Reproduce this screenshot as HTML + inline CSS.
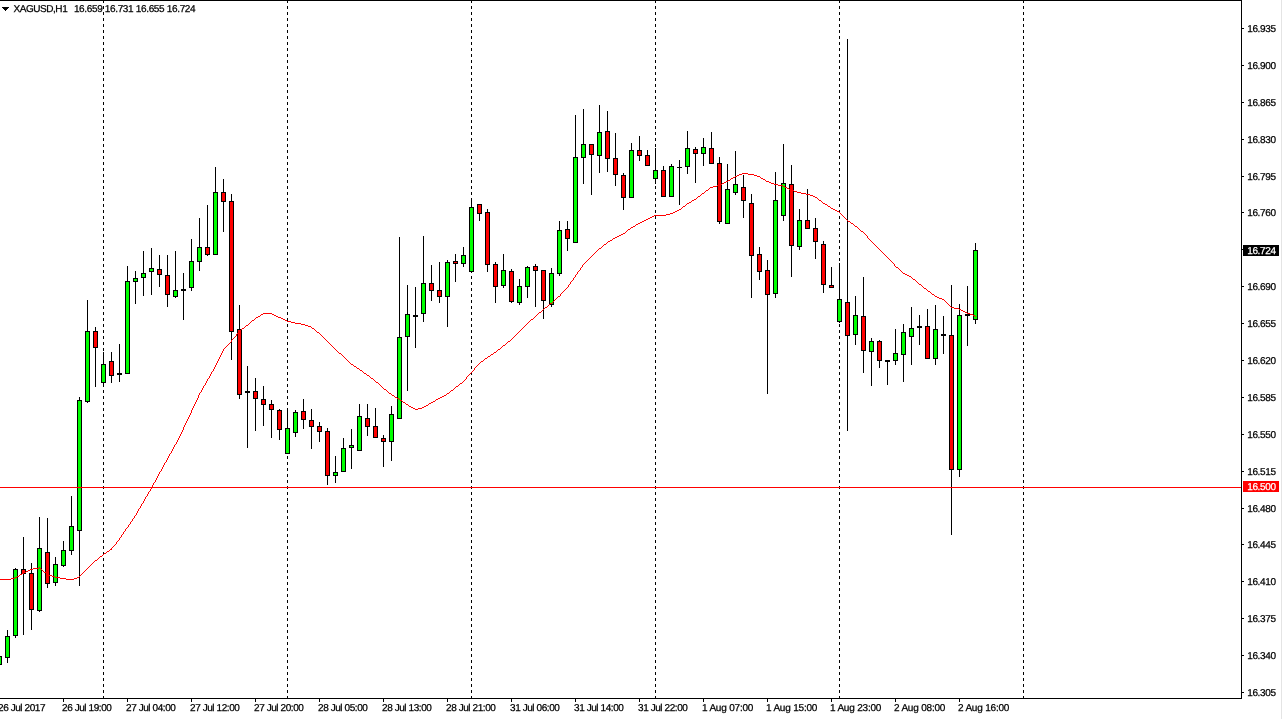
<!DOCTYPE html>
<html><head><meta charset="utf-8"><title>XAGUSD,H1</title>
<style>
html,body{margin:0;padding:0;background:#fff;}
body{width:1283px;height:719px;overflow:hidden;position:relative;font-family:"Liberation Sans",Arial,sans-serif;font-size:10px;line-height:10px;letter-spacing:-0.35px;text-rendering:geometricPrecision;-webkit-text-stroke:0.25px currentColor;color:#000;}
#chart{position:absolute;left:0;top:0;width:1283px;height:719px;}
.t{position:absolute;white-space:pre;height:10px;}
.p{left:1247.2px;}
.d{top:704px;letter-spacing:-0.42px;}
.box{position:absolute;left:1243px;width:36px;height:11px;color:#fff;}
.box span{position:absolute;left:3px;top:1px;white-space:pre;}
</style></head><body>
<svg id="chart" width="1283" height="719" viewBox="0 0 1283 719" shape-rendering="crispEdges">

<g fill="#000">
<line x1="103.5" y1="0" x2="103.5" y2="698" stroke="#000" stroke-width="1" stroke-dasharray="3 3"/>
<line x1="287.5" y1="0" x2="287.5" y2="698" stroke="#000" stroke-width="1" stroke-dasharray="3 3"/>
<line x1="471.5" y1="0" x2="471.5" y2="698" stroke="#000" stroke-width="1" stroke-dasharray="3 3"/>
<line x1="655.5" y1="0" x2="655.5" y2="698" stroke="#000" stroke-width="1" stroke-dasharray="3 3"/>
<line x1="839.5" y1="0" x2="839.5" y2="698" stroke="#000" stroke-width="1" stroke-dasharray="3 3"/>
<line x1="1023.5" y1="0" x2="1023.5" y2="698" stroke="#000" stroke-width="1" stroke-dasharray="3 3"/>
</g>
<g>
<rect x="-1" y="656" width="1" height="9" fill="#000"/>
<rect x="-3" y="656" width="5" height="9" fill="#000"/>
<rect x="-2" y="657" width="3" height="7" fill="#00ff00"/>
<rect x="7" y="630" width="1" height="33" fill="#000"/>
<rect x="5" y="636" width="5" height="22" fill="#000"/>
<rect x="6" y="637" width="3" height="20" fill="#00ff00"/>
<rect x="15" y="568" width="1" height="70" fill="#000"/>
<rect x="13" y="569" width="5" height="67" fill="#000"/>
<rect x="14" y="570" width="3" height="65" fill="#00ff00"/>
<rect x="23" y="537" width="1" height="98" fill="#000"/>
<rect x="21" y="569" width="5" height="5" fill="#000"/>
<rect x="22" y="570" width="3" height="3" fill="#ff0000"/>
<rect x="31" y="563" width="1" height="67" fill="#000"/>
<rect x="29" y="573" width="5" height="37" fill="#000"/>
<rect x="30" y="574" width="3" height="35" fill="#ff0000"/>
<rect x="39" y="517" width="1" height="95" fill="#000"/>
<rect x="37" y="548" width="5" height="63" fill="#000"/>
<rect x="38" y="549" width="3" height="61" fill="#00ff00"/>
<rect x="47" y="518" width="1" height="70" fill="#000"/>
<rect x="45" y="552" width="5" height="32" fill="#000"/>
<rect x="46" y="553" width="3" height="30" fill="#ff0000"/>
<rect x="55" y="557" width="1" height="29" fill="#000"/>
<rect x="53" y="564" width="5" height="19" fill="#000"/>
<rect x="54" y="565" width="3" height="17" fill="#00ff00"/>
<rect x="63" y="541" width="1" height="26" fill="#000"/>
<rect x="61" y="550" width="5" height="16" fill="#000"/>
<rect x="62" y="551" width="3" height="14" fill="#00ff00"/>
<rect x="71" y="496" width="1" height="59" fill="#000"/>
<rect x="69" y="526" width="5" height="25" fill="#000"/>
<rect x="70" y="527" width="3" height="23" fill="#00ff00"/>
<rect x="79" y="397" width="1" height="189" fill="#000"/>
<rect x="77" y="400" width="5" height="131" fill="#000"/>
<rect x="78" y="401" width="3" height="129" fill="#00ff00"/>
<rect x="87" y="300" width="1" height="103" fill="#000"/>
<rect x="85" y="331" width="5" height="71" fill="#000"/>
<rect x="86" y="332" width="3" height="69" fill="#00ff00"/>
<rect x="95" y="327" width="1" height="60" fill="#000"/>
<rect x="93" y="331" width="5" height="17" fill="#000"/>
<rect x="94" y="332" width="3" height="15" fill="#ff0000"/>
<rect x="103" y="352" width="1" height="35" fill="#000"/>
<rect x="101" y="364" width="5" height="19" fill="#000"/>
<rect x="102" y="365" width="3" height="17" fill="#00ff00"/>
<rect x="111" y="352" width="1" height="31" fill="#000"/>
<rect x="109" y="361" width="5" height="15" fill="#000"/>
<rect x="110" y="362" width="3" height="13" fill="#ff0000"/>
<rect x="119" y="344" width="1" height="38" fill="#000"/>
<rect x="117" y="373" width="5" height="2" fill="#000"/>
<rect x="127" y="266" width="1" height="108" fill="#000"/>
<rect x="125" y="281" width="5" height="93" fill="#000"/>
<rect x="126" y="282" width="3" height="91" fill="#00ff00"/>
<rect x="135" y="271" width="1" height="33" fill="#000"/>
<rect x="133" y="278" width="5" height="4" fill="#000"/>
<rect x="134" y="279" width="3" height="2" fill="#00ff00"/>
<rect x="143" y="251" width="1" height="45" fill="#000"/>
<rect x="141" y="273" width="5" height="5" fill="#000"/>
<rect x="142" y="274" width="3" height="3" fill="#00ff00"/>
<rect x="151" y="248" width="1" height="47" fill="#000"/>
<rect x="149" y="268" width="5" height="4" fill="#000"/>
<rect x="150" y="269" width="3" height="2" fill="#00ff00"/>
<rect x="159" y="255" width="1" height="32" fill="#000"/>
<rect x="157" y="269" width="5" height="6" fill="#000"/>
<rect x="158" y="270" width="3" height="4" fill="#ff0000"/>
<rect x="167" y="255" width="1" height="52" fill="#000"/>
<rect x="165" y="275" width="5" height="20" fill="#000"/>
<rect x="166" y="276" width="3" height="18" fill="#ff0000"/>
<rect x="175" y="251" width="1" height="47" fill="#000"/>
<rect x="173" y="290" width="5" height="7" fill="#000"/>
<rect x="174" y="291" width="3" height="5" fill="#00ff00"/>
<rect x="183" y="273" width="1" height="47" fill="#000"/>
<rect x="181" y="289" width="5" height="2" fill="#000"/>
<rect x="191" y="239" width="1" height="52" fill="#000"/>
<rect x="189" y="261" width="5" height="27" fill="#000"/>
<rect x="190" y="262" width="3" height="25" fill="#00ff00"/>
<rect x="199" y="218" width="1" height="53" fill="#000"/>
<rect x="197" y="247" width="5" height="15" fill="#000"/>
<rect x="198" y="248" width="3" height="13" fill="#00ff00"/>
<rect x="207" y="205" width="1" height="51" fill="#000"/>
<rect x="205" y="247" width="5" height="8" fill="#000"/>
<rect x="206" y="248" width="3" height="6" fill="#ff0000"/>
<rect x="215" y="167" width="1" height="88" fill="#000"/>
<rect x="213" y="192" width="5" height="63" fill="#000"/>
<rect x="214" y="193" width="3" height="61" fill="#00ff00"/>
<rect x="223" y="179" width="1" height="53" fill="#000"/>
<rect x="221" y="192" width="5" height="10" fill="#000"/>
<rect x="222" y="193" width="3" height="8" fill="#ff0000"/>
<rect x="231" y="194" width="1" height="166" fill="#000"/>
<rect x="229" y="201" width="5" height="131" fill="#000"/>
<rect x="230" y="202" width="3" height="129" fill="#ff0000"/>
<rect x="239" y="305" width="1" height="94" fill="#000"/>
<rect x="237" y="329" width="5" height="66" fill="#000"/>
<rect x="238" y="330" width="3" height="64" fill="#ff0000"/>
<rect x="247" y="366" width="1" height="82" fill="#000"/>
<rect x="245" y="391" width="5" height="2" fill="#000"/>
<rect x="255" y="378" width="1" height="53" fill="#000"/>
<rect x="253" y="391" width="5" height="8" fill="#000"/>
<rect x="254" y="392" width="3" height="6" fill="#ff0000"/>
<rect x="263" y="386" width="1" height="40" fill="#000"/>
<rect x="261" y="399" width="5" height="6" fill="#000"/>
<rect x="262" y="400" width="3" height="4" fill="#ff0000"/>
<rect x="271" y="400" width="1" height="38" fill="#000"/>
<rect x="269" y="404" width="5" height="6" fill="#000"/>
<rect x="270" y="405" width="3" height="4" fill="#ff0000"/>
<rect x="279" y="409" width="1" height="31" fill="#000"/>
<rect x="277" y="410" width="5" height="20" fill="#000"/>
<rect x="278" y="411" width="3" height="18" fill="#ff0000"/>
<rect x="287" y="408" width="1" height="46" fill="#000"/>
<rect x="285" y="428" width="5" height="26" fill="#000"/>
<rect x="286" y="429" width="3" height="24" fill="#00ff00"/>
<rect x="295" y="410" width="1" height="27" fill="#000"/>
<rect x="293" y="412" width="5" height="21" fill="#000"/>
<rect x="294" y="413" width="3" height="19" fill="#00ff00"/>
<rect x="303" y="399" width="1" height="30" fill="#000"/>
<rect x="301" y="411" width="5" height="9" fill="#000"/>
<rect x="302" y="412" width="3" height="7" fill="#ff0000"/>
<rect x="311" y="409" width="1" height="40" fill="#000"/>
<rect x="309" y="420" width="5" height="7" fill="#000"/>
<rect x="310" y="421" width="3" height="5" fill="#ff0000"/>
<rect x="319" y="422" width="1" height="20" fill="#000"/>
<rect x="317" y="426" width="5" height="6" fill="#000"/>
<rect x="318" y="427" width="3" height="4" fill="#ff0000"/>
<rect x="327" y="428" width="1" height="57" fill="#000"/>
<rect x="325" y="431" width="5" height="45" fill="#000"/>
<rect x="326" y="432" width="3" height="43" fill="#ff0000"/>
<rect x="335" y="456" width="1" height="27" fill="#000"/>
<rect x="333" y="472" width="5" height="4" fill="#000"/>
<rect x="334" y="473" width="3" height="2" fill="#00ff00"/>
<rect x="343" y="438" width="1" height="34" fill="#000"/>
<rect x="341" y="448" width="5" height="24" fill="#000"/>
<rect x="342" y="449" width="3" height="22" fill="#00ff00"/>
<rect x="351" y="429" width="1" height="40" fill="#000"/>
<rect x="349" y="445" width="5" height="3" fill="#000"/>
<rect x="350" y="446" width="3" height="1" fill="#00ff00"/>
<rect x="359" y="404" width="1" height="47" fill="#000"/>
<rect x="357" y="416" width="5" height="35" fill="#000"/>
<rect x="358" y="417" width="3" height="33" fill="#00ff00"/>
<rect x="367" y="404" width="1" height="32" fill="#000"/>
<rect x="365" y="418" width="5" height="9" fill="#000"/>
<rect x="366" y="419" width="3" height="7" fill="#ff0000"/>
<rect x="375" y="408" width="1" height="30" fill="#000"/>
<rect x="373" y="426" width="5" height="12" fill="#000"/>
<rect x="374" y="427" width="3" height="10" fill="#ff0000"/>
<rect x="383" y="435" width="1" height="32" fill="#000"/>
<rect x="381" y="438" width="5" height="4" fill="#000"/>
<rect x="382" y="439" width="3" height="2" fill="#ff0000"/>
<rect x="391" y="406" width="1" height="55" fill="#000"/>
<rect x="389" y="414" width="5" height="28" fill="#000"/>
<rect x="390" y="415" width="3" height="26" fill="#00ff00"/>
<rect x="399" y="237" width="1" height="182" fill="#000"/>
<rect x="397" y="337" width="5" height="82" fill="#000"/>
<rect x="398" y="338" width="3" height="80" fill="#00ff00"/>
<rect x="407" y="285" width="1" height="106" fill="#000"/>
<rect x="405" y="314" width="5" height="23" fill="#000"/>
<rect x="406" y="315" width="3" height="21" fill="#00ff00"/>
<rect x="415" y="287" width="1" height="61" fill="#000"/>
<rect x="413" y="315" width="5" height="2" fill="#000"/>
<rect x="423" y="236" width="1" height="86" fill="#000"/>
<rect x="421" y="283" width="5" height="31" fill="#000"/>
<rect x="422" y="284" width="3" height="29" fill="#00ff00"/>
<rect x="431" y="265" width="1" height="36" fill="#000"/>
<rect x="429" y="283" width="5" height="8" fill="#000"/>
<rect x="430" y="284" width="3" height="6" fill="#ff0000"/>
<rect x="439" y="262" width="1" height="41" fill="#000"/>
<rect x="437" y="290" width="5" height="7" fill="#000"/>
<rect x="438" y="291" width="3" height="5" fill="#ff0000"/>
<rect x="447" y="260" width="1" height="67" fill="#000"/>
<rect x="445" y="262" width="5" height="35" fill="#000"/>
<rect x="446" y="263" width="3" height="33" fill="#00ff00"/>
<rect x="455" y="254" width="1" height="28" fill="#000"/>
<rect x="453" y="261" width="5" height="3" fill="#000"/>
<rect x="454" y="262" width="3" height="1" fill="#ff0000"/>
<rect x="463" y="247" width="1" height="20" fill="#000"/>
<rect x="461" y="255" width="5" height="9" fill="#000"/>
<rect x="462" y="256" width="3" height="7" fill="#00ff00"/>
<rect x="471" y="198" width="1" height="75" fill="#000"/>
<rect x="469" y="207" width="5" height="65" fill="#000"/>
<rect x="470" y="208" width="3" height="63" fill="#00ff00"/>
<rect x="479" y="204" width="1" height="17" fill="#000"/>
<rect x="477" y="204" width="5" height="10" fill="#000"/>
<rect x="478" y="205" width="3" height="8" fill="#ff0000"/>
<rect x="487" y="209" width="1" height="63" fill="#000"/>
<rect x="485" y="212" width="5" height="53" fill="#000"/>
<rect x="486" y="213" width="3" height="51" fill="#ff0000"/>
<rect x="495" y="262" width="1" height="41" fill="#000"/>
<rect x="493" y="264" width="5" height="23" fill="#000"/>
<rect x="494" y="265" width="3" height="21" fill="#ff0000"/>
<rect x="503" y="254" width="1" height="34" fill="#000"/>
<rect x="501" y="270" width="5" height="16" fill="#000"/>
<rect x="502" y="271" width="3" height="14" fill="#00ff00"/>
<rect x="511" y="269" width="1" height="34" fill="#000"/>
<rect x="509" y="271" width="5" height="31" fill="#000"/>
<rect x="510" y="272" width="3" height="29" fill="#ff0000"/>
<rect x="519" y="279" width="1" height="26" fill="#000"/>
<rect x="517" y="286" width="5" height="17" fill="#000"/>
<rect x="518" y="287" width="3" height="15" fill="#00ff00"/>
<rect x="527" y="266" width="1" height="32" fill="#000"/>
<rect x="525" y="267" width="5" height="20" fill="#000"/>
<rect x="526" y="268" width="3" height="18" fill="#00ff00"/>
<rect x="535" y="264" width="1" height="43" fill="#000"/>
<rect x="533" y="266" width="5" height="5" fill="#000"/>
<rect x="534" y="267" width="3" height="3" fill="#ff0000"/>
<rect x="543" y="270" width="1" height="49" fill="#000"/>
<rect x="541" y="270" width="5" height="31" fill="#000"/>
<rect x="542" y="271" width="3" height="29" fill="#ff0000"/>
<rect x="551" y="268" width="1" height="39" fill="#000"/>
<rect x="549" y="273" width="5" height="32" fill="#000"/>
<rect x="550" y="274" width="3" height="30" fill="#00ff00"/>
<rect x="559" y="221" width="1" height="55" fill="#000"/>
<rect x="557" y="230" width="5" height="44" fill="#000"/>
<rect x="558" y="231" width="3" height="42" fill="#00ff00"/>
<rect x="567" y="221" width="1" height="30" fill="#000"/>
<rect x="565" y="229" width="5" height="10" fill="#000"/>
<rect x="566" y="230" width="3" height="8" fill="#ff0000"/>
<rect x="575" y="115" width="1" height="128" fill="#000"/>
<rect x="573" y="157" width="5" height="86" fill="#000"/>
<rect x="574" y="158" width="3" height="84" fill="#00ff00"/>
<rect x="583" y="109" width="1" height="75" fill="#000"/>
<rect x="581" y="144" width="5" height="14" fill="#000"/>
<rect x="582" y="145" width="3" height="12" fill="#00ff00"/>
<rect x="591" y="144" width="1" height="51" fill="#000"/>
<rect x="589" y="144" width="5" height="11" fill="#000"/>
<rect x="590" y="145" width="3" height="9" fill="#ff0000"/>
<rect x="599" y="105" width="1" height="68" fill="#000"/>
<rect x="597" y="132" width="5" height="24" fill="#000"/>
<rect x="598" y="133" width="3" height="22" fill="#00ff00"/>
<rect x="607" y="111" width="1" height="61" fill="#000"/>
<rect x="605" y="131" width="5" height="28" fill="#000"/>
<rect x="606" y="132" width="3" height="26" fill="#ff0000"/>
<rect x="615" y="133" width="1" height="53" fill="#000"/>
<rect x="613" y="158" width="5" height="17" fill="#000"/>
<rect x="614" y="159" width="3" height="15" fill="#ff0000"/>
<rect x="623" y="173" width="1" height="37" fill="#000"/>
<rect x="621" y="175" width="5" height="23" fill="#000"/>
<rect x="622" y="176" width="3" height="21" fill="#ff0000"/>
<rect x="631" y="143" width="1" height="55" fill="#000"/>
<rect x="629" y="150" width="5" height="48" fill="#000"/>
<rect x="630" y="151" width="3" height="46" fill="#00ff00"/>
<rect x="639" y="136" width="1" height="25" fill="#000"/>
<rect x="637" y="150" width="5" height="6" fill="#000"/>
<rect x="638" y="151" width="3" height="4" fill="#ff0000"/>
<rect x="647" y="150" width="1" height="16" fill="#000"/>
<rect x="645" y="155" width="5" height="11" fill="#000"/>
<rect x="646" y="156" width="3" height="9" fill="#ff0000"/>
<rect x="655" y="148" width="1" height="36" fill="#000"/>
<rect x="653" y="170" width="5" height="9" fill="#000"/>
<rect x="654" y="171" width="3" height="7" fill="#00ff00"/>
<rect x="663" y="166" width="1" height="31" fill="#000"/>
<rect x="661" y="170" width="5" height="27" fill="#000"/>
<rect x="662" y="171" width="3" height="25" fill="#ff0000"/>
<rect x="671" y="164" width="1" height="33" fill="#000"/>
<rect x="669" y="166" width="5" height="31" fill="#000"/>
<rect x="670" y="167" width="3" height="29" fill="#00ff00"/>
<rect x="679" y="160" width="1" height="45" fill="#000"/>
<rect x="677" y="167" width="5" height="1" fill="#000"/>
<rect x="687" y="131" width="1" height="43" fill="#000"/>
<rect x="685" y="148" width="5" height="19" fill="#000"/>
<rect x="686" y="149" width="3" height="17" fill="#00ff00"/>
<rect x="695" y="147" width="1" height="36" fill="#000"/>
<rect x="693" y="149" width="5" height="5" fill="#000"/>
<rect x="694" y="150" width="3" height="3" fill="#ff0000"/>
<rect x="703" y="138" width="1" height="28" fill="#000"/>
<rect x="701" y="147" width="5" height="7" fill="#000"/>
<rect x="702" y="148" width="3" height="5" fill="#00ff00"/>
<rect x="711" y="132" width="1" height="32" fill="#000"/>
<rect x="709" y="148" width="5" height="16" fill="#000"/>
<rect x="710" y="149" width="3" height="14" fill="#ff0000"/>
<rect x="719" y="157" width="1" height="67" fill="#000"/>
<rect x="717" y="163" width="5" height="59" fill="#000"/>
<rect x="718" y="164" width="3" height="57" fill="#ff0000"/>
<rect x="727" y="164" width="1" height="60" fill="#000"/>
<rect x="725" y="189" width="5" height="35" fill="#000"/>
<rect x="726" y="190" width="3" height="33" fill="#00ff00"/>
<rect x="735" y="151" width="1" height="44" fill="#000"/>
<rect x="733" y="184" width="5" height="9" fill="#000"/>
<rect x="734" y="185" width="3" height="7" fill="#00ff00"/>
<rect x="743" y="175" width="1" height="43" fill="#000"/>
<rect x="741" y="187" width="5" height="14" fill="#000"/>
<rect x="742" y="188" width="3" height="12" fill="#ff0000"/>
<rect x="751" y="194" width="1" height="104" fill="#000"/>
<rect x="749" y="203" width="5" height="53" fill="#000"/>
<rect x="750" y="204" width="3" height="51" fill="#ff0000"/>
<rect x="759" y="247" width="1" height="33" fill="#000"/>
<rect x="757" y="254" width="5" height="18" fill="#000"/>
<rect x="758" y="255" width="3" height="16" fill="#ff0000"/>
<rect x="767" y="260" width="1" height="134" fill="#000"/>
<rect x="765" y="270" width="5" height="25" fill="#000"/>
<rect x="766" y="271" width="3" height="23" fill="#ff0000"/>
<rect x="775" y="172" width="1" height="126" fill="#000"/>
<rect x="773" y="200" width="5" height="94" fill="#000"/>
<rect x="774" y="201" width="3" height="92" fill="#00ff00"/>
<rect x="783" y="144" width="1" height="77" fill="#000"/>
<rect x="781" y="183" width="5" height="33" fill="#000"/>
<rect x="782" y="184" width="3" height="31" fill="#00ff00"/>
<rect x="791" y="165" width="1" height="112" fill="#000"/>
<rect x="789" y="184" width="5" height="62" fill="#000"/>
<rect x="790" y="185" width="3" height="60" fill="#ff0000"/>
<rect x="799" y="209" width="1" height="41" fill="#000"/>
<rect x="797" y="220" width="5" height="27" fill="#000"/>
<rect x="798" y="221" width="3" height="25" fill="#00ff00"/>
<rect x="807" y="189" width="1" height="40" fill="#000"/>
<rect x="805" y="220" width="5" height="9" fill="#000"/>
<rect x="806" y="221" width="3" height="7" fill="#ff0000"/>
<rect x="815" y="218" width="1" height="41" fill="#000"/>
<rect x="813" y="228" width="5" height="14" fill="#000"/>
<rect x="814" y="229" width="3" height="12" fill="#ff0000"/>
<rect x="823" y="241" width="1" height="52" fill="#000"/>
<rect x="821" y="244" width="5" height="41" fill="#000"/>
<rect x="822" y="245" width="3" height="39" fill="#ff0000"/>
<rect x="831" y="267" width="1" height="21" fill="#000"/>
<rect x="829" y="285" width="5" height="3" fill="#000"/>
<rect x="830" y="286" width="3" height="1" fill="#ff0000"/>
<rect x="839" y="263" width="1" height="60" fill="#000"/>
<rect x="837" y="299" width="5" height="23" fill="#000"/>
<rect x="838" y="300" width="3" height="21" fill="#00ff00"/>
<rect x="847" y="39" width="1" height="392" fill="#000"/>
<rect x="845" y="302" width="5" height="34" fill="#000"/>
<rect x="846" y="303" width="3" height="32" fill="#ff0000"/>
<rect x="855" y="296" width="1" height="49" fill="#000"/>
<rect x="853" y="315" width="5" height="20" fill="#000"/>
<rect x="854" y="316" width="3" height="18" fill="#00ff00"/>
<rect x="863" y="277" width="1" height="96" fill="#000"/>
<rect x="861" y="316" width="5" height="35" fill="#000"/>
<rect x="862" y="317" width="3" height="33" fill="#ff0000"/>
<rect x="871" y="338" width="1" height="48" fill="#000"/>
<rect x="869" y="341" width="5" height="11" fill="#000"/>
<rect x="870" y="342" width="3" height="9" fill="#00ff00"/>
<rect x="879" y="340" width="1" height="28" fill="#000"/>
<rect x="877" y="341" width="5" height="20" fill="#000"/>
<rect x="878" y="342" width="3" height="18" fill="#ff0000"/>
<rect x="887" y="360" width="1" height="25" fill="#000"/>
<rect x="885" y="360" width="5" height="2" fill="#000"/>
<rect x="895" y="329" width="1" height="36" fill="#000"/>
<rect x="893" y="353" width="5" height="8" fill="#000"/>
<rect x="894" y="354" width="3" height="6" fill="#00ff00"/>
<rect x="903" y="324" width="1" height="58" fill="#000"/>
<rect x="901" y="332" width="5" height="23" fill="#000"/>
<rect x="902" y="333" width="3" height="21" fill="#00ff00"/>
<rect x="911" y="307" width="1" height="58" fill="#000"/>
<rect x="909" y="328" width="5" height="9" fill="#000"/>
<rect x="910" y="329" width="3" height="7" fill="#00ff00"/>
<rect x="919" y="315" width="1" height="30" fill="#000"/>
<rect x="917" y="326" width="5" height="2" fill="#000"/>
<rect x="927" y="309" width="1" height="50" fill="#000"/>
<rect x="925" y="326" width="5" height="33" fill="#000"/>
<rect x="926" y="327" width="3" height="31" fill="#ff0000"/>
<rect x="935" y="305" width="1" height="60" fill="#000"/>
<rect x="933" y="329" width="5" height="30" fill="#000"/>
<rect x="934" y="330" width="3" height="28" fill="#00ff00"/>
<rect x="943" y="316" width="1" height="38" fill="#000"/>
<rect x="941" y="334" width="5" height="2" fill="#000"/>
<rect x="951" y="285" width="1" height="250" fill="#000"/>
<rect x="949" y="335" width="5" height="135" fill="#000"/>
<rect x="950" y="336" width="3" height="133" fill="#ff0000"/>
<rect x="959" y="304" width="1" height="173" fill="#000"/>
<rect x="957" y="315" width="5" height="155" fill="#000"/>
<rect x="958" y="316" width="3" height="153" fill="#00ff00"/>
<rect x="967" y="286" width="1" height="60" fill="#000"/>
<rect x="965" y="314" width="5" height="2" fill="#000"/>
<rect x="975" y="243" width="1" height="81" fill="#000"/>
<rect x="973" y="250" width="5" height="70" fill="#000"/>
<rect x="974" y="251" width="3" height="68" fill="#00ff00"/>
</g>
<path fill="#ff0000" d="M0 579h1v1h-1zM1 579h1v1h-1zM2 579h1v1h-1zM3 579h1v1h-1zM4 579h1v1h-1zM5 579h1v1h-1zM6 579h1v1h-1zM7 579h1v1h-1zM8 579h1v1h-1zM9 579h1v1h-1zM10 579h1v1h-1zM11 578h1v1h-1zM12 578h1v1h-1zM13 578h1v1h-1zM14 578h1v1h-1zM15 577h1v1h-1zM16 577h1v1h-1zM17 576h1v1h-1zM18 576h1v1h-1zM19 575h1v1h-1zM20 574h1v1h-1zM21 574h1v1h-1zM22 573h1v1h-1zM23 573h1v1h-1zM24 572h1v1h-1zM25 572h1v1h-1zM26 571h1v1h-1zM27 571h1v1h-1zM28 570h1v1h-1zM29 570h1v1h-1zM30 569h1v1h-1zM31 569h1v1h-1zM32 569h1v1h-1zM33 568h1v1h-1zM34 568h1v1h-1zM35 568h1v1h-1zM36 568h1v1h-1zM37 568h1v1h-1zM38 568h1v1h-1zM39 567h1v1h-1zM40 568h1v1h-1zM41 569h1v1h-1zM42 570h1v1h-1zM43 571h1v1h-1zM44 572h1v1h-1zM45 572h1v1h-1zM46 573h1v1h-1zM47 574h1v1h-1zM48 574h1v1h-1zM49 575h1v1h-1zM50 575h1v1h-1zM51 575h1v1h-1zM52 576h1v1h-1zM53 576h1v1h-1zM54 576h1v1h-1zM55 577h1v1h-1zM56 577h1v1h-1zM57 577h1v1h-1zM58 577h1v1h-1zM59 577h1v1h-1zM60 578h1v1h-1zM61 578h1v1h-1zM62 578h1v1h-1zM63 578h1v1h-1zM64 578h1v1h-1zM65 578h1v1h-1zM66 579h1v1h-1zM67 579h1v1h-1zM68 579h1v1h-1zM69 579h1v1h-1zM70 579h1v1h-1zM71 579h1v1h-1zM72 579h1v1h-1zM73 579h1v1h-1zM74 578h1v1h-1zM75 578h1v1h-1zM76 578h1v1h-1zM77 577h1v1h-1zM78 577h1v1h-1zM79 576h1v1h-1zM80 575h1v1h-1zM81 574h1v1h-1zM82 573h1v1h-1zM83 572h1v1h-1zM84 571h1v1h-1zM85 570h1v1h-1zM86 569h1v1h-1zM87 568h1v1h-1zM88 567h1v1h-1zM89 566h1v1h-1zM90 565h1v1h-1zM91 564h1v1h-1zM92 563h1v1h-1zM93 562h1v1h-1zM94 561h1v1h-1zM95 560h1v1h-1zM96 560h1v1h-1zM97 559h1v1h-1zM98 558h1v1h-1zM99 557h1v1h-1zM100 556h1v1h-1zM101 556h1v1h-1zM102 555h1v1h-1zM103 554h1v1h-1zM104 553h1v1h-1zM105 553h1v1h-1zM106 552h1v1h-1zM107 551h1v1h-1zM108 551h1v1h-1zM109 550h1v1h-1zM110 549h1v1h-1zM111 548h1v2h-1zM112 547h1v1h-1zM113 546h1v1h-1zM114 545h1v1h-1zM115 544h1v1h-1zM116 542h1v2h-1zM117 541h1v1h-1zM118 540h1v1h-1zM119 538h1v2h-1zM120 537h1v1h-1zM121 535h1v2h-1zM122 534h1v1h-1zM123 532h1v2h-1zM124 531h1v1h-1zM125 529h1v2h-1zM126 528h1v1h-1zM127 527h1v1h-1zM128 525h1v2h-1zM129 524h1v1h-1zM130 522h1v2h-1zM131 521h1v1h-1zM132 519h1v2h-1zM133 518h1v1h-1zM134 516h1v2h-1zM135 515h1v1h-1zM136 513h1v2h-1zM137 511h1v2h-1zM138 509h1v2h-1zM139 508h1v1h-1zM140 506h1v2h-1zM141 504h1v2h-1zM142 503h1v1h-1zM143 501h1v2h-1zM144 499h1v2h-1zM145 497h1v2h-1zM146 496h1v1h-1zM147 494h1v2h-1zM148 492h1v2h-1zM149 491h1v1h-1zM150 489h1v2h-1zM151 487h1v2h-1zM152 485h1v2h-1zM153 483h1v2h-1zM154 482h1v1h-1zM155 480h1v2h-1zM156 478h1v2h-1zM157 476h1v2h-1zM158 474h1v2h-1zM159 472h1v2h-1zM160 471h1v1h-1zM161 469h1v2h-1zM162 467h1v2h-1zM163 465h1v2h-1zM164 463h1v2h-1zM165 462h1v1h-1zM166 460h1v2h-1zM167 458h1v2h-1zM168 456h1v2h-1zM169 454h1v2h-1zM170 453h1v1h-1zM171 451h1v2h-1zM172 449h1v2h-1zM173 447h1v2h-1zM174 445h1v2h-1zM175 444h1v1h-1zM176 442h1v2h-1zM177 440h1v2h-1zM178 438h1v2h-1zM179 436h1v2h-1zM180 434h1v2h-1zM181 432h1v2h-1zM182 430h1v2h-1zM183 427h1v3h-1zM184 425h1v2h-1zM185 423h1v2h-1zM186 421h1v2h-1zM187 419h1v2h-1zM188 417h1v2h-1zM189 415h1v2h-1zM190 413h1v2h-1zM191 410h1v3h-1zM192 408h1v2h-1zM193 406h1v2h-1zM194 404h1v2h-1zM195 402h1v2h-1zM196 400h1v2h-1zM197 398h1v2h-1zM198 395h1v3h-1zM199 393h1v2h-1zM200 392h1v1h-1zM201 390h1v2h-1zM202 388h1v2h-1zM203 386h1v2h-1zM204 385h1v1h-1zM205 383h1v2h-1zM206 381h1v2h-1zM207 379h1v2h-1zM208 378h1v1h-1zM209 376h1v2h-1zM210 374h1v2h-1zM211 372h1v2h-1zM212 371h1v1h-1zM213 369h1v2h-1zM214 367h1v2h-1zM215 365h1v2h-1zM216 363h1v2h-1zM217 361h1v2h-1zM218 359h1v2h-1zM219 357h1v2h-1zM220 355h1v2h-1zM221 353h1v2h-1zM222 351h1v2h-1zM223 349h1v2h-1zM224 348h1v1h-1zM225 347h1v1h-1zM226 346h1v1h-1zM227 345h1v1h-1zM228 344h1v1h-1zM229 343h1v1h-1zM230 342h1v1h-1zM231 340h1v2h-1zM232 339h1v1h-1zM233 338h1v1h-1zM234 337h1v1h-1zM235 336h1v1h-1zM236 334h1v2h-1zM237 333h1v1h-1zM238 332h1v1h-1zM239 331h1v1h-1zM240 330h1v1h-1zM241 329h1v1h-1zM242 328h1v1h-1zM243 328h1v1h-1zM244 327h1v1h-1zM245 326h1v1h-1zM246 325h1v1h-1zM247 325h1v1h-1zM248 324h1v1h-1zM249 323h1v1h-1zM250 322h1v1h-1zM251 321h1v1h-1zM252 320h1v1h-1zM253 320h1v1h-1zM254 319h1v1h-1zM255 318h1v1h-1zM256 317h1v1h-1zM257 317h1v1h-1zM258 316h1v1h-1zM259 316h1v1h-1zM260 315h1v1h-1zM261 314h1v1h-1zM262 314h1v1h-1zM263 313h1v1h-1zM264 313h1v1h-1zM265 313h1v1h-1zM266 313h1v1h-1zM267 313h1v1h-1zM268 313h1v1h-1zM269 313h1v1h-1zM270 313h1v1h-1zM271 313h1v1h-1zM272 314h1v1h-1zM273 314h1v1h-1zM274 315h1v1h-1zM275 315h1v1h-1zM276 316h1v1h-1zM277 316h1v1h-1zM278 317h1v1h-1zM279 317h1v1h-1zM280 317h1v1h-1zM281 318h1v1h-1zM282 318h1v1h-1zM283 319h1v1h-1zM284 319h1v1h-1zM285 320h1v1h-1zM286 320h1v1h-1zM287 321h1v1h-1zM288 321h1v1h-1zM289 321h1v1h-1zM290 321h1v1h-1zM291 322h1v1h-1zM292 322h1v1h-1zM293 322h1v1h-1zM294 322h1v1h-1zM295 323h1v1h-1zM296 323h1v1h-1zM297 323h1v1h-1zM298 323h1v1h-1zM299 323h1v1h-1zM300 323h1v1h-1zM301 324h1v1h-1zM302 324h1v1h-1zM303 324h1v1h-1zM304 324h1v1h-1zM305 325h1v1h-1zM306 325h1v1h-1zM307 325h1v1h-1zM308 326h1v1h-1zM309 326h1v1h-1zM310 326h1v1h-1zM311 327h1v1h-1zM312 328h1v1h-1zM313 328h1v1h-1zM314 329h1v1h-1zM315 330h1v1h-1zM316 331h1v1h-1zM317 332h1v1h-1zM318 332h1v1h-1zM319 333h1v1h-1zM320 334h1v1h-1zM321 335h1v1h-1zM322 336h1v1h-1zM323 337h1v1h-1zM324 338h1v1h-1zM325 339h1v1h-1zM326 340h1v1h-1zM327 341h1v1h-1zM328 342h1v1h-1zM329 343h1v1h-1zM330 344h1v1h-1zM331 345h1v1h-1zM332 346h1v1h-1zM333 347h1v1h-1zM334 348h1v1h-1zM335 349h1v1h-1zM336 350h1v1h-1zM337 351h1v1h-1zM338 352h1v1h-1zM339 353h1v1h-1zM340 353h1v1h-1zM341 354h1v1h-1zM342 355h1v1h-1zM343 356h1v1h-1zM344 357h1v1h-1zM345 358h1v1h-1zM346 359h1v1h-1zM347 360h1v1h-1zM348 361h1v1h-1zM349 362h1v1h-1zM350 363h1v1h-1zM351 364h1v1h-1zM352 364h1v1h-1zM353 365h1v1h-1zM354 366h1v1h-1zM355 366h1v1h-1zM356 367h1v1h-1zM357 368h1v1h-1zM358 368h1v1h-1zM359 369h1v1h-1zM360 370h1v1h-1zM361 370h1v1h-1zM362 371h1v1h-1zM363 372h1v1h-1zM364 373h1v1h-1zM365 373h1v1h-1zM366 374h1v1h-1zM367 375h1v1h-1zM368 375h1v1h-1zM369 376h1v1h-1zM370 377h1v1h-1zM371 378h1v1h-1zM372 378h1v1h-1zM373 379h1v1h-1zM374 380h1v1h-1zM375 381h1v1h-1zM376 382h1v1h-1zM377 382h1v1h-1zM378 383h1v1h-1zM379 384h1v1h-1zM380 385h1v1h-1zM381 386h1v1h-1zM382 387h1v1h-1zM383 388h1v1h-1zM384 389h1v1h-1zM385 389h1v1h-1zM386 390h1v1h-1zM387 391h1v1h-1zM388 392h1v1h-1zM389 393h1v1h-1zM390 393h1v1h-1zM391 394h1v1h-1zM392 395h1v1h-1zM393 395h1v1h-1zM394 396h1v1h-1zM395 397h1v1h-1zM396 397h1v1h-1zM397 398h1v1h-1zM398 398h1v1h-1zM399 399h1v1h-1zM400 400h1v1h-1zM401 400h1v1h-1zM402 401h1v1h-1zM403 402h1v1h-1zM404 402h1v1h-1zM405 403h1v1h-1zM406 404h1v1h-1zM407 404h1v1h-1zM408 405h1v1h-1zM409 406h1v1h-1zM410 406h1v1h-1zM411 407h1v1h-1zM412 407h1v1h-1zM413 408h1v1h-1zM414 408h1v1h-1zM415 409h1v1h-1zM416 409h1v1h-1zM417 409h1v1h-1zM418 408h1v1h-1zM419 408h1v1h-1zM420 408h1v1h-1zM421 408h1v1h-1zM422 407h1v1h-1zM423 407h1v1h-1zM424 406h1v1h-1zM425 406h1v1h-1zM426 405h1v1h-1zM427 405h1v1h-1zM428 404h1v1h-1zM429 403h1v1h-1zM430 403h1v1h-1zM431 402h1v1h-1zM432 402h1v1h-1zM433 401h1v1h-1zM434 401h1v1h-1zM435 400h1v1h-1zM436 399h1v1h-1zM437 399h1v1h-1zM438 398h1v1h-1zM439 398h1v1h-1zM440 397h1v1h-1zM441 397h1v1h-1zM442 396h1v1h-1zM443 396h1v1h-1zM444 395h1v1h-1zM445 395h1v1h-1zM446 394h1v1h-1zM447 393h1v1h-1zM448 393h1v1h-1zM449 392h1v1h-1zM450 391h1v1h-1zM451 390h1v1h-1zM452 390h1v1h-1zM453 389h1v1h-1zM454 388h1v1h-1zM455 387h1v1h-1zM456 386h1v1h-1zM457 386h1v1h-1zM458 385h1v1h-1zM459 384h1v1h-1zM460 383h1v1h-1zM461 383h1v1h-1zM462 382h1v1h-1zM463 381h1v1h-1zM464 380h1v1h-1zM465 379h1v1h-1zM466 377h1v2h-1zM467 376h1v1h-1zM468 375h1v1h-1zM469 374h1v1h-1zM470 373h1v1h-1zM471 372h1v1h-1zM472 371h1v1h-1zM473 370h1v1h-1zM474 368h1v2h-1zM475 367h1v1h-1zM476 366h1v1h-1zM477 365h1v1h-1zM478 364h1v1h-1zM479 363h1v1h-1zM480 362h1v1h-1zM481 361h1v1h-1zM482 361h1v1h-1zM483 360h1v1h-1zM484 359h1v1h-1zM485 358h1v1h-1zM486 358h1v1h-1zM487 357h1v1h-1zM488 356h1v1h-1zM489 356h1v1h-1zM490 355h1v1h-1zM491 354h1v1h-1zM492 354h1v1h-1zM493 353h1v1h-1zM494 352h1v1h-1zM495 352h1v1h-1zM496 351h1v1h-1zM497 350h1v1h-1zM498 349h1v1h-1zM499 349h1v1h-1zM500 348h1v1h-1zM501 347h1v1h-1zM502 346h1v1h-1zM503 345h1v1h-1zM504 345h1v1h-1zM505 344h1v1h-1zM506 343h1v1h-1zM507 342h1v1h-1zM508 341h1v1h-1zM509 341h1v1h-1zM510 340h1v1h-1zM511 339h1v1h-1zM512 338h1v1h-1zM513 337h1v1h-1zM514 336h1v1h-1zM515 335h1v1h-1zM516 334h1v1h-1zM517 333h1v1h-1zM518 332h1v1h-1zM519 331h1v1h-1zM520 330h1v1h-1zM521 329h1v1h-1zM522 328h1v1h-1zM523 327h1v1h-1zM524 326h1v1h-1zM525 325h1v1h-1zM526 324h1v1h-1zM527 323h1v1h-1zM528 322h1v1h-1zM529 321h1v1h-1zM530 320h1v1h-1zM531 319h1v1h-1zM532 319h1v1h-1zM533 318h1v1h-1zM534 317h1v1h-1zM535 316h1v1h-1zM536 315h1v1h-1zM537 314h1v1h-1zM538 313h1v1h-1zM539 312h1v1h-1zM540 312h1v1h-1zM541 311h1v1h-1zM542 310h1v1h-1zM543 309h1v1h-1zM544 308h1v1h-1zM545 307h1v1h-1zM546 307h1v1h-1zM547 306h1v1h-1zM548 305h1v1h-1zM549 304h1v1h-1zM550 303h1v1h-1zM551 303h1v1h-1zM552 302h1v1h-1zM553 301h1v1h-1zM554 300h1v1h-1zM555 299h1v1h-1zM556 298h1v1h-1zM557 297h1v1h-1zM558 296h1v1h-1zM559 296h1v1h-1zM560 294h1v2h-1zM561 293h1v1h-1zM562 292h1v1h-1zM563 291h1v1h-1zM564 290h1v1h-1zM565 289h1v1h-1zM566 288h1v1h-1zM567 287h1v1h-1zM568 285h1v2h-1zM569 284h1v1h-1zM570 282h1v2h-1zM571 281h1v1h-1zM572 280h1v1h-1zM573 278h1v2h-1zM574 277h1v1h-1zM575 275h1v2h-1zM576 274h1v1h-1zM577 272h1v2h-1zM578 271h1v1h-1zM579 270h1v1h-1zM580 268h1v2h-1zM581 267h1v1h-1zM582 265h1v2h-1zM583 264h1v1h-1zM584 263h1v1h-1zM585 262h1v1h-1zM586 261h1v1h-1zM587 260h1v1h-1zM588 259h1v1h-1zM589 258h1v1h-1zM590 257h1v1h-1zM591 256h1v1h-1zM592 255h1v1h-1zM593 254h1v1h-1zM594 253h1v1h-1zM595 252h1v1h-1zM596 251h1v1h-1zM597 250h1v1h-1zM598 249h1v1h-1zM599 248h1v1h-1zM600 248h1v1h-1zM601 247h1v1h-1zM602 246h1v1h-1zM603 245h1v1h-1zM604 244h1v1h-1zM605 244h1v1h-1zM606 243h1v1h-1zM607 242h1v1h-1zM608 241h1v1h-1zM609 241h1v1h-1zM610 240h1v1h-1zM611 240h1v1h-1zM612 239h1v1h-1zM613 238h1v1h-1zM614 238h1v1h-1zM615 237h1v1h-1zM616 237h1v1h-1zM617 236h1v1h-1zM618 236h1v1h-1zM619 235h1v1h-1zM620 235h1v1h-1zM621 234h1v1h-1zM622 234h1v1h-1zM623 233h1v1h-1zM624 233h1v1h-1zM625 232h1v1h-1zM626 231h1v1h-1zM627 230h1v1h-1zM628 229h1v1h-1zM629 229h1v1h-1zM630 228h1v1h-1zM631 227h1v1h-1zM632 227h1v1h-1zM633 226h1v1h-1zM634 226h1v1h-1zM635 225h1v1h-1zM636 224h1v1h-1zM637 224h1v1h-1zM638 223h1v1h-1zM639 223h1v1h-1zM640 222h1v1h-1zM641 222h1v1h-1zM642 221h1v1h-1zM643 221h1v1h-1zM644 220h1v1h-1zM645 220h1v1h-1zM646 219h1v1h-1zM647 219h1v1h-1zM648 218h1v1h-1zM649 218h1v1h-1zM650 217h1v1h-1zM651 217h1v1h-1zM652 216h1v1h-1zM653 216h1v1h-1zM654 215h1v1h-1zM655 215h1v1h-1zM656 215h1v1h-1zM657 215h1v1h-1zM658 215h1v1h-1zM659 215h1v1h-1zM660 215h1v1h-1zM661 215h1v1h-1zM662 215h1v1h-1zM663 215h1v1h-1zM664 215h1v1h-1zM665 215h1v1h-1zM666 214h1v1h-1zM667 214h1v1h-1zM668 214h1v1h-1zM669 214h1v1h-1zM670 213h1v1h-1zM671 213h1v1h-1zM672 213h1v1h-1zM673 212h1v1h-1zM674 212h1v1h-1zM675 211h1v1h-1zM676 211h1v1h-1zM677 210h1v1h-1zM678 210h1v1h-1zM679 209h1v1h-1zM680 209h1v1h-1zM681 208h1v1h-1zM682 207h1v1h-1zM683 206h1v1h-1zM684 206h1v1h-1zM685 205h1v1h-1zM686 204h1v1h-1zM687 203h1v1h-1zM688 203h1v1h-1zM689 202h1v1h-1zM690 202h1v1h-1zM691 201h1v1h-1zM692 200h1v1h-1zM693 200h1v1h-1zM694 199h1v1h-1zM695 199h1v1h-1zM696 198h1v1h-1zM697 197h1v1h-1zM698 196h1v1h-1zM699 196h1v1h-1zM700 195h1v1h-1zM701 194h1v1h-1zM702 193h1v1h-1zM703 193h1v1h-1zM704 192h1v1h-1zM705 191h1v1h-1zM706 190h1v1h-1zM707 190h1v1h-1zM708 189h1v1h-1zM709 188h1v1h-1zM710 187h1v1h-1zM711 187h1v1h-1zM712 187h1v1h-1zM713 186h1v1h-1zM714 186h1v1h-1zM715 186h1v1h-1zM716 186h1v1h-1zM717 185h1v1h-1zM718 185h1v1h-1zM719 185h1v1h-1zM720 184h1v1h-1zM721 184h1v1h-1zM722 183h1v1h-1zM723 183h1v1h-1zM724 182h1v1h-1zM725 182h1v1h-1zM726 181h1v1h-1zM727 181h1v1h-1zM728 180h1v1h-1zM729 180h1v1h-1zM730 179h1v1h-1zM731 178h1v1h-1zM732 178h1v1h-1zM733 177h1v1h-1zM734 177h1v1h-1zM735 176h1v1h-1zM736 176h1v1h-1zM737 175h1v1h-1zM738 175h1v1h-1zM739 174h1v1h-1zM740 174h1v1h-1zM741 174h1v1h-1zM742 173h1v1h-1zM743 173h1v1h-1zM744 173h1v1h-1zM745 173h1v1h-1zM746 173h1v1h-1zM747 173h1v1h-1zM748 174h1v1h-1zM749 174h1v1h-1zM750 174h1v1h-1zM751 174h1v1h-1zM752 174h1v1h-1zM753 174h1v1h-1zM754 175h1v1h-1zM755 175h1v1h-1zM756 175h1v1h-1zM757 176h1v1h-1zM758 176h1v1h-1zM759 176h1v1h-1zM760 177h1v1h-1zM761 178h1v1h-1zM762 178h1v1h-1zM763 179h1v1h-1zM764 179h1v1h-1zM765 180h1v1h-1zM766 181h1v1h-1zM767 181h1v1h-1zM768 181h1v1h-1zM769 182h1v1h-1zM770 182h1v1h-1zM771 183h1v1h-1zM772 183h1v1h-1zM773 183h1v1h-1zM774 184h1v1h-1zM775 184h1v1h-1zM776 184h1v1h-1zM777 184h1v1h-1zM778 185h1v1h-1zM779 185h1v1h-1zM780 185h1v1h-1zM781 185h1v1h-1zM782 185h1v1h-1zM783 186h1v1h-1zM784 186h1v1h-1zM785 187h1v1h-1zM786 187h1v1h-1zM787 188h1v1h-1zM788 188h1v1h-1zM789 189h1v1h-1zM790 189h1v1h-1zM791 190h1v1h-1zM792 190h1v1h-1zM793 190h1v1h-1zM794 191h1v1h-1zM795 191h1v1h-1zM796 191h1v1h-1zM797 192h1v1h-1zM798 192h1v1h-1zM799 192h1v1h-1zM800 192h1v1h-1zM801 193h1v1h-1zM802 193h1v1h-1zM803 193h1v1h-1zM804 193h1v1h-1zM805 193h1v1h-1zM806 194h1v1h-1zM807 194h1v1h-1zM808 194h1v1h-1zM809 194h1v1h-1zM810 195h1v1h-1zM811 195h1v1h-1zM812 195h1v1h-1zM813 196h1v1h-1zM814 196h1v1h-1zM815 197h1v1h-1zM816 197h1v1h-1zM817 198h1v1h-1zM818 199h1v1h-1zM819 200h1v1h-1zM820 200h1v1h-1zM821 201h1v1h-1zM822 202h1v1h-1zM823 203h1v1h-1zM824 203h1v1h-1zM825 204h1v1h-1zM826 204h1v1h-1zM827 205h1v1h-1zM828 206h1v1h-1zM829 206h1v1h-1zM830 207h1v1h-1zM831 208h1v1h-1zM832 208h1v1h-1zM833 209h1v1h-1zM834 209h1v1h-1zM835 210h1v1h-1zM836 210h1v1h-1zM837 211h1v1h-1zM838 211h1v1h-1zM839 212h1v1h-1zM840 213h1v1h-1zM841 214h1v1h-1zM842 215h1v1h-1zM843 216h1v1h-1zM844 217h1v1h-1zM845 218h1v1h-1zM846 219h1v1h-1zM847 220h1v1h-1zM848 221h1v1h-1zM849 221h1v1h-1zM850 222h1v1h-1zM851 223h1v1h-1zM852 223h1v1h-1zM853 224h1v1h-1zM854 225h1v1h-1zM855 226h1v1h-1zM856 226h1v1h-1zM857 227h1v1h-1zM858 228h1v1h-1zM859 229h1v1h-1zM860 230h1v1h-1zM861 231h1v1h-1zM862 231h1v1h-1zM863 232h1v1h-1zM864 233h1v1h-1zM865 234h1v1h-1zM866 235h1v1h-1zM867 236h1v2h-1zM868 238h1v1h-1zM869 239h1v1h-1zM870 240h1v1h-1zM871 241h1v1h-1zM872 242h1v1h-1zM873 243h1v1h-1zM874 244h1v1h-1zM875 245h1v1h-1zM876 246h1v1h-1zM877 247h1v1h-1zM878 248h1v1h-1zM879 249h1v1h-1zM880 250h1v1h-1zM881 251h1v1h-1zM882 252h1v1h-1zM883 253h1v1h-1zM884 254h1v1h-1zM885 255h1v1h-1zM886 256h1v1h-1zM887 257h1v1h-1zM888 258h1v1h-1zM889 259h1v1h-1zM890 260h1v1h-1zM891 261h1v1h-1zM892 262h1v1h-1zM893 263h1v1h-1zM894 264h1v2h-1zM895 266h1v1h-1zM896 267h1v1h-1zM897 267h1v1h-1zM898 268h1v1h-1zM899 269h1v1h-1zM900 270h1v1h-1zM901 271h1v1h-1zM902 272h1v1h-1zM903 273h1v1h-1zM904 273h1v1h-1zM905 274h1v1h-1zM906 274h1v1h-1zM907 275h1v1h-1zM908 275h1v1h-1zM909 276h1v1h-1zM910 276h1v1h-1zM911 277h1v1h-1zM912 278h1v1h-1zM913 279h1v1h-1zM914 279h1v1h-1zM915 280h1v1h-1zM916 281h1v1h-1zM917 282h1v1h-1zM918 283h1v1h-1zM919 284h1v1h-1zM920 284h1v1h-1zM921 285h1v1h-1zM922 286h1v1h-1zM923 287h1v1h-1zM924 288h1v1h-1zM925 288h1v1h-1zM926 289h1v1h-1zM927 290h1v1h-1zM928 291h1v1h-1zM929 291h1v1h-1zM930 292h1v1h-1zM931 293h1v1h-1zM932 294h1v1h-1zM933 294h1v1h-1zM934 295h1v1h-1zM935 296h1v1h-1zM936 296h1v1h-1zM937 297h1v1h-1zM938 297h1v1h-1zM939 298h1v1h-1zM940 298h1v1h-1zM941 298h1v1h-1zM942 299h1v1h-1zM943 299h1v1h-1zM944 300h1v1h-1zM945 301h1v1h-1zM946 302h1v1h-1zM947 303h1v1h-1zM948 304h1v1h-1zM949 305h1v1h-1zM950 306h1v1h-1zM951 307h1v1h-1zM952 307h1v1h-1zM953 307h1v1h-1zM954 308h1v1h-1zM955 308h1v1h-1zM956 308h1v1h-1zM957 308h1v1h-1zM958 308h1v1h-1zM959 309h1v1h-1zM960 309h1v1h-1zM961 310h1v1h-1zM962 310h1v1h-1zM963 311h1v1h-1zM964 311h1v1h-1zM965 312h1v1h-1zM966 312h1v1h-1zM967 313h1v1h-1zM968 313h1v1h-1zM969 313h1v1h-1zM970 314h1v1h-1zM971 314h1v1h-1zM972 314h1v1h-1zM973 315h1v1h-1zM974 315h1v1h-1zM975 316h1v1h-1z"/>
<rect x="0" y="487" width="1241" height="1" fill="#ff0000"/>
<rect x="0" y="0" width="1242" height="1" fill="#000"/>
<rect x="1241" y="0" width="1" height="699" fill="#000"/>
<rect x="0" y="698" width="1242" height="1" fill="#000"/>
<rect x="1281" y="0" width="1" height="719" fill="#e4e4e4"/>
<rect x="1242" y="28" width="2" height="1" fill="#000"/>
<rect x="1242" y="65" width="2" height="1" fill="#000"/>
<rect x="1242" y="102" width="2" height="1" fill="#000"/>
<rect x="1242" y="139" width="2" height="1" fill="#000"/>
<rect x="1242" y="176" width="2" height="1" fill="#000"/>
<rect x="1242" y="212" width="2" height="1" fill="#000"/>
<rect x="1242" y="249" width="2" height="1" fill="#000"/>
<rect x="1242" y="286" width="2" height="1" fill="#000"/>
<rect x="1242" y="323" width="2" height="1" fill="#000"/>
<rect x="1242" y="360" width="2" height="1" fill="#000"/>
<rect x="1242" y="397" width="2" height="1" fill="#000"/>
<rect x="1242" y="434" width="2" height="1" fill="#000"/>
<rect x="1242" y="471" width="2" height="1" fill="#000"/>
<rect x="1242" y="508" width="2" height="1" fill="#000"/>
<rect x="1242" y="544" width="2" height="1" fill="#000"/>
<rect x="1242" y="581" width="2" height="1" fill="#000"/>
<rect x="1242" y="618" width="2" height="1" fill="#000"/>
<rect x="1242" y="655" width="2" height="1" fill="#000"/>
<rect x="1242" y="692" width="2" height="1" fill="#000"/>
<rect x="-1" y="699" width="1" height="3" fill="#000"/>
<rect x="63" y="699" width="1" height="3" fill="#000"/>
<rect x="127" y="699" width="1" height="3" fill="#000"/>
<rect x="191" y="699" width="1" height="3" fill="#000"/>
<rect x="255" y="699" width="1" height="3" fill="#000"/>
<rect x="319" y="699" width="1" height="3" fill="#000"/>
<rect x="383" y="699" width="1" height="3" fill="#000"/>
<rect x="447" y="699" width="1" height="3" fill="#000"/>
<rect x="511" y="699" width="1" height="3" fill="#000"/>
<rect x="575" y="699" width="1" height="3" fill="#000"/>
<rect x="639" y="699" width="1" height="3" fill="#000"/>
<rect x="703" y="699" width="1" height="3" fill="#000"/>
<rect x="767" y="699" width="1" height="3" fill="#000"/>
<rect x="831" y="699" width="1" height="3" fill="#000"/>
<rect x="895" y="699" width="1" height="3" fill="#000"/>
<rect x="959" y="699" width="1" height="3" fill="#000"/>
<path d="M2 7h7v1h-1v1h-1v1h-1v1h-1v-1h-1v-1h-1v-1h-1z" fill="#000"/>
<rect x="1243" y="245" width="36" height="11" fill="#000"/>
<rect x="1243" y="481" width="36" height="11" fill="#ff0000"/>
</svg>
<div class="t" style="left:13.5px;top:5px;letter-spacing:-0.45px">XAGUSD,H1</div>
<div class="t" style="left:73.9px;top:5px;letter-spacing:-0.35px">16.659</div>
<div class="t" style="left:104.8px;top:5px;letter-spacing:-0.35px">16.731</div>
<div class="t" style="left:135.8px;top:5px;letter-spacing:-0.35px">16.655</div>
<div class="t" style="left:166.8px;top:5px;letter-spacing:-0.35px">16.724</div>
<div class="t p" style="top:25px">16.935</div>
<div class="t p" style="top:62px">16.900</div>
<div class="t p" style="top:99px">16.865</div>
<div class="t p" style="top:136px">16.830</div>
<div class="t p" style="top:173px">16.795</div>
<div class="t p" style="top:209px">16.760</div>
<div class="t p" style="top:283px">16.690</div>
<div class="t p" style="top:320px">16.655</div>
<div class="t p" style="top:357px">16.620</div>
<div class="t p" style="top:394px">16.585</div>
<div class="t p" style="top:431px">16.550</div>
<div class="t p" style="top:468px">16.515</div>
<div class="t p" style="top:505px">16.480</div>
<div class="t p" style="top:541px">16.445</div>
<div class="t p" style="top:578px">16.410</div>
<div class="t p" style="top:615px">16.375</div>
<div class="t p" style="top:652px">16.340</div>
<div class="t p" style="top:689px">16.305</div>
<div class="t p" style="top:247px;color:#fff">16.724</div>
<div class="t p" style="top:483px;color:#fff">16.500</div>
<div class="t d" style="left:-2px">26 Jul 2017</div>
<div class="t d" style="left:62px">26 Jul 19:00</div>
<div class="t d" style="left:126px">27 Jul 04:00</div>
<div class="t d" style="left:190px">27 Jul 12:00</div>
<div class="t d" style="left:254px">27 Jul 20:00</div>
<div class="t d" style="left:318px">28 Jul 05:00</div>
<div class="t d" style="left:382px">28 Jul 13:00</div>
<div class="t d" style="left:446px">28 Jul 21:00</div>
<div class="t d" style="left:510px">31 Jul 06:00</div>
<div class="t d" style="left:574px">31 Jul 14:00</div>
<div class="t d" style="left:638px">31 Jul 22:00</div>
<div class="t d" style="left:702px;letter-spacing:-0.2px">1 Aug 07:00</div>
<div class="t d" style="left:766px;letter-spacing:-0.2px">1 Aug 15:00</div>
<div class="t d" style="left:830px;letter-spacing:-0.2px">1 Aug 23:00</div>
<div class="t d" style="left:894px;letter-spacing:-0.2px">2 Aug 08:00</div>
<div class="t d" style="left:958px;letter-spacing:-0.2px">2 Aug 16:00</div>
</body></html>
